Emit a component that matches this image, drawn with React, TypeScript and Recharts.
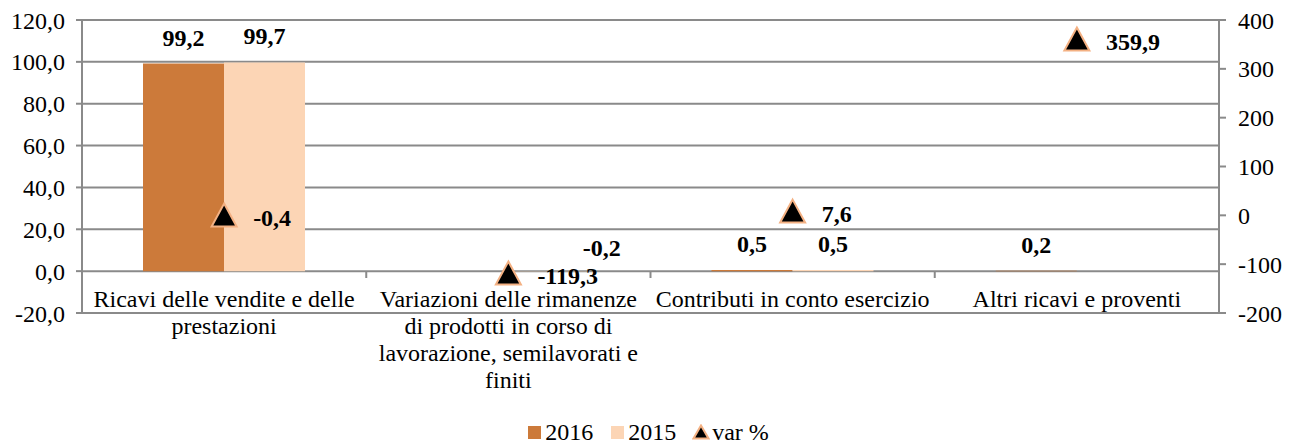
import React from "react";
import {
  Bar,
  CartesianGrid,
  ComposedChart,
  LabelList,
  Legend,
  Line,
  XAxis,
  YAxis,
} from "recharts";

const categories = [
  "Ricavi delle vendite e delle prestazioni",
  "Variazioni delle rimanenze di prodotti in corso di lavorazione, semilavorati e finiti",
  "Contributi in conto esercizio",
  "Altri ricavi e proventi",
];
const values2016 = [99.2, 0, 0.5, 0.2];
const values2015 = [99.7, -0.2, 0.5, 0];
const varPct = [-0.4, -119.3, 7.6, 359.9];
const leftTicks = [-20, 0, 20, 40, 60, 80, 100, 120];
const rightTicks = [-200, -100, 0, 100, 200, 300, 400];

const data = categories.map((name, i) => ({
  name,
  y2016: values2016[i],
  y2015: values2015[i],
  varPct: varPct[i],
}));

const FONT = "'Liberation Serif', 'Times New Roman', serif";
const GRID = "#8a8a8a";
const C2016 = "#CC7A3A";
const C2015 = "#FCD5B5";
const MARKER_STROKE = "#F4B183";
// distance in px between the 0 and -20 grid lines: category labels hang off the zero line
const ZERO_SHIFT = 42;

const fmt1 = (v: number) => v.toFixed(1).replace(".", ",");

let measureCtx: CanvasRenderingContext2D | null = null;

/** Greedy word wrap measured with a canvas, like Excel's category labels. */
function wrapLabel(text: string, maxWidth: number): string[] {
  if (!measureCtx) measureCtx = document.createElement("canvas").getContext("2d");
  const ctx = measureCtx;
  if (!ctx) return [text];
  ctx.font = `24px ${FONT}`;
  const lines: string[] = [];
  let current = "";
  for (const word of text.split(" ")) {
    const next = current ? `${current} ${word}` : word;
    if (current && ctx.measureText(next).width > maxWidth) {
      lines.push(current);
      current = word;
    } else {
      current = next;
    }
  }
  if (current) lines.push(current);
  return lines;
}

function CategoryTick(props: any) {
  const { x, y, payload, width } = props;
  const zeroY = y - ZERO_SHIFT;
  const half =
    payload?.offset ?? (width ? width / categories.length / 2 : 142);
  const lines = wrapLabel(String(payload.value), 278);
  return (
    <g>
      {payload.index > 0 ? (
        <line
          x1={x - half}
          x2={x - half}
          y1={zeroY}
          y2={zeroY + 7}
          stroke={GRID}
          strokeWidth={2}
        />
      ) : null}
      <text
        x={x}
        y={zeroY + 36}
        textAnchor="middle"
        fill="#000"
        fontSize={24}
        fontFamily={FONT}
      >
        {lines.map((line, i) => (
          <tspan key={i} x={x} dy={i === 0 ? 0 : 27}>
            {line}
          </tspan>
        ))}
      </text>
    </g>
  );
}

function BarValueLabel(props: any) {
  const vb = props.viewBox ?? props;
  const value = Number(props.value);
  if (!value) return null;
  const top = Math.min(vb.y, vb.y + vb.height);
  const cx = vb.x + vb.width / 2;
  // the negative label was moved beside the bar, above the zero line
  const x = value < 0 ? cx + 53 : cx;
  const y = value < 0 ? top - 15 : top - 18;
  return (
    <text
      x={x}
      y={y}
      textAnchor="middle"
      fontWeight="bold"
      fontSize={24}
      fontFamily={FONT}
      fill="#000"
    >
      {fmt1(value)}
    </text>
  );
}

function VarLabel(props: any) {
  const vb = props.viewBox ?? props;
  const px = vb.x + (vb.width ?? 0) / 2;
  const py = vb.y + (vb.height ?? 0) / 2;
  return (
    <text
      x={px + 29}
      y={py + 2}
      dominantBaseline="central"
      fontWeight="bold"
      fontSize={24}
      fontFamily={FONT}
      fill="#000"
    >
      {fmt1(Number(props.value))}
    </text>
  );
}

function TriangleDot(props: any) {
  const { cx, cy, index } = props;
  if (cx == null || cy == null) return <g key={`t-${index}`} />;
  return (
    <path
      key={`t-${index}`}
      d={`M${cx},${cy - 12} L${cx + 12.5},${cy + 11} L${cx - 12.5},${cy + 11} Z`}
      fill="#000"
      stroke={MARKER_STROKE}
      strokeWidth={2}
    />
  );
}

function LegendContent() {
  const item: React.CSSProperties = {
    display: "flex",
    alignItems: "center",
  };
  return (
    <div
      style={{
        display: "flex",
        justifyContent: "center",
        alignItems: "center",
        fontFamily: FONT,
        fontSize: 24,
        color: "#000",
        height: 26,
      }}
    >
      <span style={item}>
        <span style={{ width: 13, height: 13, background: C2016, marginRight: 4 }} />
        2016
      </span>
      <span style={{ ...item, marginLeft: 18 }}>
        <span style={{ width: 13, height: 13, background: C2015, marginRight: 4 }} />
        2015
      </span>
      <span style={{ ...item, marginLeft: 16 }}>
        <svg width={18} height={16} style={{ marginRight: 2 }}>
          <path d="M9,1.5 L16.5,14.5 L1.5,14.5 Z" fill="#000" stroke={MARKER_STROKE} strokeWidth={2} />
        </svg>
        var %
      </span>
    </div>
  );
}

export default function App() {
  return (
    <div style={{ width: 1281, height: 437 }}>
      <ComposedChart
        width={1281}
        height={437}
        data={data}
        margin={{ top: 12, right: 0, bottom: 0, left: 0 }}
        barCategoryGap={61}
        barGap={0}
        style={{ fontFamily: FONT }}
      >
        <CartesianGrid
          yAxisId="left"
          vertical={false}
          stroke={GRID}
          strokeWidth={2}
        />
        <XAxis
          dataKey="name"
          interval={0}
          height={106}
          axisLine={false}
          tickLine={false}
          tickSize={0}
          tickMargin={0}
          tick={<CategoryTick />}
        />
        <YAxis
          yAxisId="left"
          domain={[-20, 120]}
          ticks={leftTicks}
          interval={0}
          width={74}
          tickFormatter={(v: number) => fmt1(v)}
          axisLine={{ stroke: GRID, strokeWidth: 2 }}
          tickLine={{ stroke: GRID, strokeWidth: 2 }}
          tickSize={6}
          tickMargin={11}
          tick={{ fill: "#000", fontSize: 24, fontFamily: FONT }}
        />
        <YAxis
          yAxisId="right"
          orientation="right"
          domain={[-200, 400]}
          ticks={rightTicks}
          interval={0}
          width={70}
          axisLine={{ stroke: GRID, strokeWidth: 2 }}
          tickLine={{ stroke: GRID, strokeWidth: 2 }}
          tickSize={7}
          tickMargin={12}
          tick={{ fill: "#000", fontSize: 24, fontFamily: FONT }}
        />
        <Legend
          verticalAlign="bottom"
          height={26}
          content={() => <LegendContent />}
        />
        <Bar yAxisId="left" dataKey="y2016" name="2016" fill={C2016} isAnimationActive={false}>
          <LabelList dataKey="y2016" content={<BarValueLabel />} />
        </Bar>
        <Bar yAxisId="left" dataKey="y2015" name="2015" fill={C2015} isAnimationActive={false}>
          <LabelList dataKey="y2015" content={<BarValueLabel />} />
        </Bar>
        <Line
          yAxisId="right"
          dataKey="varPct"
          name="var %"
          stroke="none"
          dot={(p: any) => <TriangleDot {...p} key={`t-${p.index}`} />}
          activeDot={false}
          isAnimationActive={false}
        >
          <LabelList dataKey="varPct" content={<VarLabel />} />
        </Line>
      </ComposedChart>
    </div>
  );
}
